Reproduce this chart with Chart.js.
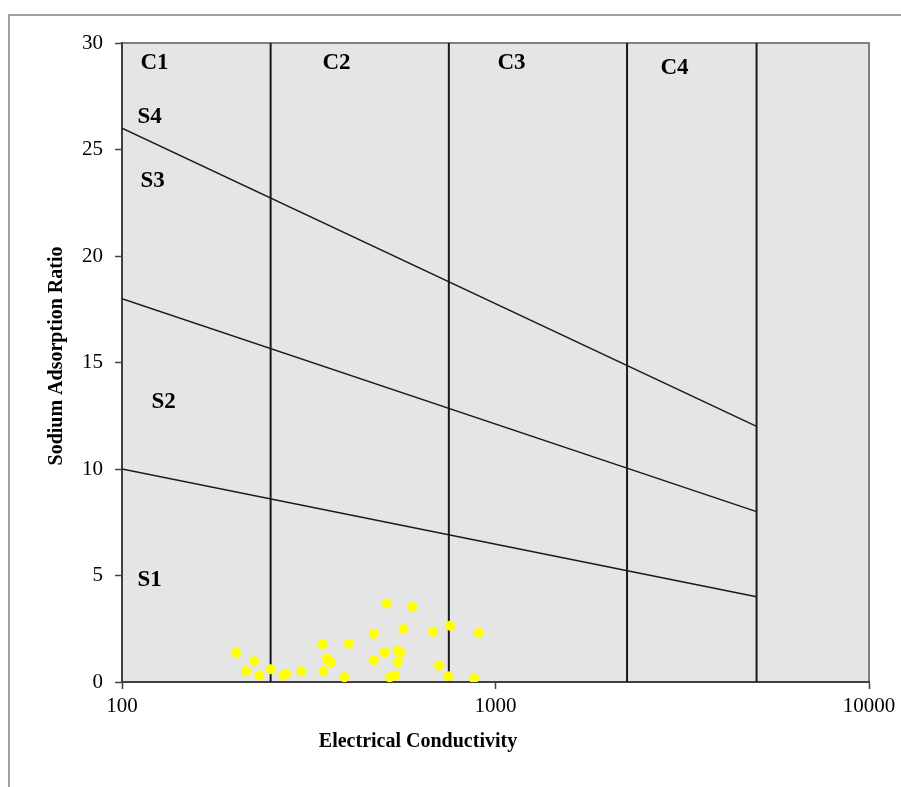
<!DOCTYPE html>
<html>
<head>
  <title>SAR vs EC</title>
  <script src="https://cdn.jsdelivr.net/npm/chart.js"></script>
  <style>
    body { margin: 0; background: #fff; }
    #wrap { width: 901px; height: 787px; }
  </style>
</head>
<body>
  <div id="wrap"><canvas id="sarChart"></canvas></div>

  <script>
    // sample points (EC in uS/cm, SAR)
    const ecValues = [202, 226, 215, 233, 250, 270, 275, 302, 344, 354, 362, 346, 405, 394, 511, 599,
                      472, 567, 505, 547, 557, 472, 547, 521, 538, 681, 756, 902, 706, 747, 875];
    const sarValues = [1.38, 0.97, 0.50, 0.31, 0.60, 0.31, 0.39, 0.50, 1.77, 1.09, 0.92, 0.50, 1.80, 0.22, 3.69, 3.52,
                       2.27, 2.49, 1.39, 1.49, 1.35, 1.02, 0.92, 0.22, 0.31, 2.36, 2.64, 2.31, 0.78, 0.27, 0.17];

    // salinity class boundaries (vertical lines)
    const ecBounds = [250, 750, 2250, 5000];
    // sodium hazard boundaries: SAR at EC=100 and EC=5000
    const sodiumEc = [100, 5000];
    const sodiumStart = [26, 18, 10];
    const sodiumEnd = [12, 8, 4];

    const xTicks = [100, 1000, 10000];
    const classLabels = ["C1", "C2", "C3", "C4", "S4", "S3", "S2", "S1"];
    const classLabelEc = [112, 344, 1012, 2764, 110, 112, 120, 110];
    const classLabelSar = [29.06, 29.06, 29.06, 28.83, 26.53, 23.52, 13.15, 4.79];

    const serif = "'Liberation Serif', 'Times New Roman', serif";

    const datasets = [{
      label: "Samples",
      data: ecValues.map((x, i) => ({ x: x, y: sarValues[i] })),
      showLine: false,
      pointRadius: 5,
      pointBackgroundColor: "#ffff00",
      pointBorderWidth: 0,
      order: 0
    }];

    ecBounds.forEach(ec => {
      datasets.push({
        data: [{ x: ec, y: 0 }, { x: ec, y: 30 }],
        showLine: true, borderColor: "#1a1a1a", borderWidth: 2,
        pointRadius: 0, order: 1
      });
    });

    sodiumStart.forEach((s, i) => {
      datasets.push({
        data: [{ x: sodiumEc[0], y: s }, { x: sodiumEc[1], y: sodiumEnd[i] }],
        showLine: true, borderColor: "#1a1a1a", borderWidth: 1.5,
        pointRadius: 0, order: 1
      });
    });

    const decor = {
      id: "decor",
      beforeDraw(chart) {
        const { ctx, chartArea: a } = chart;
        ctx.save();
        // outer frame
        ctx.strokeStyle = "#a0a0a0";
        ctx.lineWidth = 2;
        ctx.beginPath();
        ctx.moveTo(9, 787);
        ctx.lineTo(9, 15);
        ctx.lineTo(901, 15);
        ctx.stroke();
        // plot background
        ctx.fillStyle = "#e5e5e5";
        ctx.fillRect(a.left, a.top, a.right - a.left, a.bottom - a.top);
        ctx.strokeStyle = "#808080";
        ctx.lineWidth = 2;
        ctx.beginPath();
        ctx.moveTo(a.left, a.top);
        ctx.lineTo(a.right, a.top);
        ctx.lineTo(a.right, a.bottom);
        ctx.stroke();
        ctx.restore();
      },
      afterDraw(chart) {
        const { ctx, chartArea: a, scales } = chart;
        ctx.save();
        ctx.fillStyle = "#000";
        ctx.font = "bold 23px " + serif;
        ctx.textAlign = "left";
        ctx.textBaseline = "middle";
        classLabels.forEach((t, i) => {
          ctx.fillText(t, scales.x.getPixelForValue(classLabelEc[i]), scales.y.getPixelForValue(classLabelSar[i]));
        });
        // axis titles
        ctx.font = "bold 20px " + serif;
        ctx.textAlign = "center";
        ctx.fillText("Electrical Conductivity", 418, 742);
        ctx.translate(57, 356);
        ctx.rotate(-Math.PI / 2);
        ctx.fillText("Sodium Adsorption Ratio", 0, 0);
        ctx.restore();
      }
    };

    new Chart(document.getElementById("sarChart"), {
      type: "scatter",
      data: { datasets: datasets },
      options: {
        responsive: true,
        maintainAspectRatio: false,
        animation: false,
        layout: { padding: { left: 0, right: 32, top: 43, bottom: 0 } },
        plugins: { legend: { display: false }, tooltip: { enabled: false } },
        scales: {
          x: {
            type: "logarithmic",
            min: 100, max: 10000,
            afterBuildTicks: s => { s.ticks = xTicks.map(v => ({ value: v })); },
            afterFit: s => { s.height = 105; },
            grid: { drawOnChartArea: false, tickLength: 7, color: "#404040", tickWidth: 1.5 },
            border: { color: "#404040", width: 2 },
            ticks: {
              padding: 5, color: "#000",
              font: { family: serif, size: 21 },
              callback: v => String(v), maxRotation: 0
            }
          },
          y: {
            min: 0, max: 30,
            afterFit: s => { s.width = 122; },
            grid: { drawOnChartArea: false, tickLength: 7, color: "#404040", tickWidth: 1.5 },
            border: { color: "#404040", width: 2 },
            ticks: {
              stepSize: 5, padding: 12, color: "#000",
              font: { family: serif, size: 21 }
            }
          }
        }
      },
      plugins: [decor]
    });
  </script>
</body>
</html>
